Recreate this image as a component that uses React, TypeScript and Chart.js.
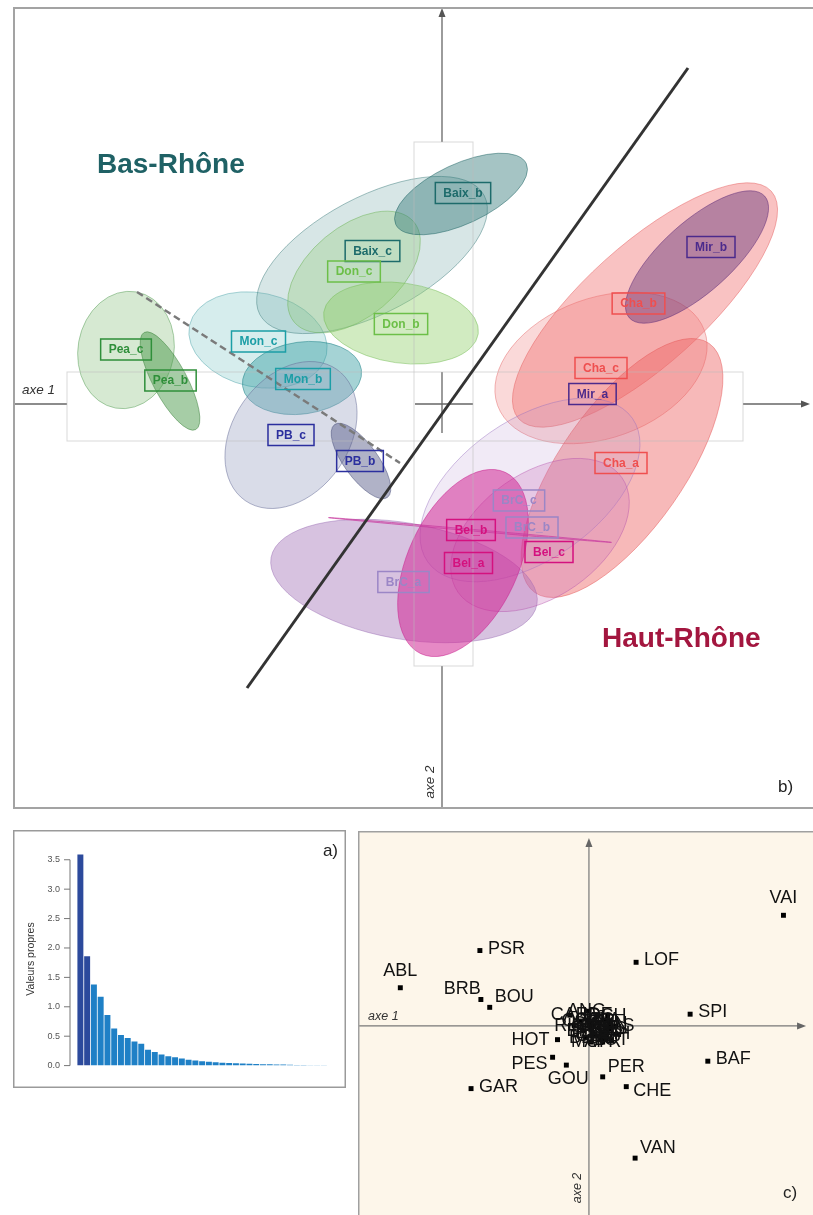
import React, { useEffect, useRef } from "react";
import { Chart, registerables } from "chart.js";

Chart.register(...registerables);

const SANS = "'Liberation Sans', Arial, Helvetica, sans-serif";
Chart.defaults.font.family = SANS;

/* ================= panel b : ACP, ellipses des groupes ================= */
const ellipseGroups = ["Pea_c", "Pea_b", "Mon_c", "Mon_b", "PB_c", "PB_b", "Baix_c", "Don_c", "Don_b", "Baix_b", "Cha_c", "Cha_b", "Mir_b", "Cha_a", "BrC_c", "BrC_a", "BrC_b", "Bel_a", "Bel_b"];
const ellipseCx = [-3.16, -2.72, -1.84, -1.40, -1.51, -0.81, -0.70, -0.88, -0.41, 0.19, 1.59, 2.03, 2.55, 1.80, 0.88, -0.38, 0.98, 0.21, 0.28];
const ellipseCy = [0.54, 0.23, 0.64, 0.26, -0.31, -0.57, 1.49, 1.32, 0.81, 2.10, 0.36, 0.99, 1.47, -0.64, -0.86, -1.77, -1.31, -1.59, -1.26];
const ellipseA = [0.59, 0.55, 0.70, 0.60, 0.80, 0.45, 1.27, 0.78, 0.78, 0.72, 1.10, 1.70, 0.91, 1.52, 1.25, 1.35, 1.00, 1.00, 1.42];
const ellipseB = [0.48, 0.17, 0.47, 0.36, 0.58, 0.17, 0.58, 0.45, 0.40, 0.30, 0.70, 0.60, 0.35, 0.62, 0.70, 0.58, 0.62, 0.55, 0.008];
const ellipseAngle = [80, -62, -12, 8, 55, -54, 28, 40, -8, 25, 20, 42, 42, 55, 35, -10, 35, 65, -5];

const labelGroups = ["Baix_b", "Baix_c", "Don_c", "Don_b", "Mon_c", "Mon_b", "Pea_c", "Pea_b", "PB_c", "PB_b", "Mir_b", "Cha_b", "Cha_c", "Mir_a", "Cha_a", "BrC_c", "BrC_b", "Bel_b", "Bel_a", "Bel_c", "BrC_a"];
const labelX = [0.21, -0.695, -0.88, -0.41, -1.835, -1.39, -3.16, -2.715, -1.51, -0.82, 2.69, 1.965, 1.59, 1.505, 1.79, 0.77, 0.90, 0.29, 0.265, 1.07, -0.385];
const labelY = [2.11, 1.53, 1.325, 0.80, 0.625, 0.25, 0.545, 0.235, -0.31, -0.57, 1.57, 1.005, 0.36, 0.10, -0.59, -0.965, -1.235, -1.26, -1.59, -1.48, -1.78];

const separatorX = [-1.95, 2.46];
const separatorY = [-2.84, 3.36];
const dashedX = [-3.05, -0.42];
const dashedY = [1.12, -0.59];

const regionNames = ["Bas-Rhône", "Haut-Rhône"];
const regionX = [-3.45, 1.60];
const regionY = [2.31, -2.43];

const ellipseFill: Record<string, string> = {
  Pea_c: "rgba(140,195,130,0.36)", Pea_b: "rgba(70,150,70,0.48)",
  Mon_c: "rgba(140,205,205,0.36)", Mon_b: "rgba(40,150,155,0.42)",
  PB_c: "rgba(150,158,190,0.36)", PB_b: "rgba(80,85,130,0.45)",
  Baix_c: "rgba(110,165,165,0.28)", Don_c: "rgba(140,200,110,0.30)",
  Don_b: "rgba(140,205,100,0.40)", Baix_b: "rgba(40,115,115,0.42)",
  Cha_c: "rgba(240,130,130,0.30)", Cha_b: "rgba(240,110,110,0.42)",
  Mir_b: "rgba(100,50,120,0.45)", Cha_a: "rgba(238,100,100,0.45)",
  BrC_c: "rgba(175,140,205,0.18)", BrC_a: "rgba(160,110,180,0.42)",
  BrC_b: "rgba(200,110,185,0.28)", Bel_a: "rgba(210,40,150,0.55)",
  Bel_b: "rgba(210,60,160,0.30)",
};
const ellipseStroke: Record<string, string> = {
  Pea_c: "rgba(90,160,90,0.5)", Pea_b: "rgba(60,130,60,0.5)",
  Mon_c: "rgba(90,170,175,0.5)", Mon_b: "rgba(30,130,135,0.5)",
  PB_c: "rgba(100,105,150,0.5)", PB_b: "rgba(70,75,120,0.5)",
  Baix_c: "rgba(70,130,130,0.5)", Don_c: "rgba(110,180,90,0.5)",
  Don_b: "rgba(120,190,90,0.5)", Baix_b: "rgba(30,100,100,0.5)",
  Cha_c: "rgba(230,110,110,0.5)", Cha_b: "rgba(230,100,100,0.5)",
  Mir_b: "rgba(90,40,120,0.5)", Cha_a: "rgba(230,90,90,0.5)",
  BrC_c: "rgba(150,110,190,0.45)", BrC_a: "rgba(140,90,170,0.4)",
  BrC_b: "rgba(180,80,170,0.45)", Bel_a: "rgba(200,30,140,0.5)",
  Bel_b: "rgba(200,60,160,0.7)",
};
const labelColour: Record<string, string> = {
  Pea: "#2f8f3a", Mon: "#1c9ea6", PB: "#2b2f9e", Baix: "#1d6b6b", Don: "#6cbf48",
  Mir: "#4b2a8c", Cha: "#ef4f4f", BrC: "#9b86c6", Bel: "#d4117f",
};
const regionColour = ["#1f6165", "#a3163f"];

/* ================= panel a : valeurs propres ================= */
const eigenRanks = ["1", "2", "3", "4", "5", "6", "7", "8", "9", "10", "11", "12", "13", "14", "15", "16", "17", "18", "19", "20", "21", "22", "23", "24", "25", "26", "27", "28", "29", "30", "31", "32", "33", "34", "35", "36", "37", "38"];
const eigenValues = [3.59, 1.86, 1.38, 1.17, 0.86, 0.63, 0.52, 0.47, 0.41, 0.37, 0.27, 0.23, 0.19, 0.16, 0.14, 0.12, 0.10, 0.085, 0.075, 0.065, 0.058, 0.05, 0.045, 0.04, 0.035, 0.032, 0.028, 0.025, 0.022, 0.02, 0.017, 0.015, 0.012, 0.01, 0.008, 0.006, 0.004, 0.002];
const eigenTicks = [0, 0.5, 1, 1.5, 2, 2.5, 3, 3.5];

/* ================= panel c : espèces ================= */
const speciesNames = ["VAI", "LOF", "SPI", "BAF", "PER", "CHE", "VAN", "PSR", "ABL", "BRB", "BOU", "HOT", "PES", "GOU", "GAR",
  "ANG", "CAR", "RHO", "CCO", "ROT", "TAN", "BRO", "SAN", "SIL", "EPI", "GRE", "LOT", "BLN", "IDE", "PCH", "OBR", "TRF", "CMI", "BBG", "APR", "MUP", "CAS", "ALA", "BLE", "LPP", "EPT"];
const speciesX = [3.96, 0.96, 2.06, 2.42, 0.28, 0.76, 0.94, -2.22, -3.84, -2.20, -2.02, -0.64, -0.74, -0.46, -2.40,
  -0.05, -0.39, -0.30, 0.12, 0.21, 0.33, 0.04, 0.41, 0.26, 0.55, 0.12, 0.46, -0.05, 0.18, 0.38, -0.16, 0.21, 0.01, 0.41, 0.28, 0.04, 0.55, 0.30, 0.08, 0.34, -0.10];
const speciesY = [2.26, 1.30, 0.24, -0.72, -1.04, -1.24, -2.70, 1.54, 0.78, 0.54, 0.38, -0.28, -0.64, -0.80, -1.28,
  0.30, 0.22, 0.00, 0.13, -0.04, -0.12, -0.07, 0.03, -0.24, -0.17, -0.21, -0.28, -0.24, 0.23, 0.20, 0.10, 0.07, 0.03, -0.07, -0.33, -0.33, 0.00, 0.12, -0.14, -0.20, -0.10];
const speciesLabelSide = ["t", "r", "r", "r", "rt", "rb", "rt", "r", "t", "lt", "rt", "l", "lb", "b", "r",
  "c", "c", "c", "c", "c", "c", "c", "c", "c", "c", "c", "c", "c", "c", "c", "c", "c", "c", "c", "c", "c", "c", "c", "c", "c", "c"];

const sideOffset: Record<string, [number, number, CanvasTextAlign]> = {
  r: [8, -2, "left"], rt: [5, -10, "left"], rb: [7, 4, "left"], l: [-8, 0, "right"],
  lt: [0, -10, "right"], lb: [-5, 7, "right"], t: [0, -17, "center"], b: [2, 14, "center"], c: [0, 0, "center"],
};

/* ---------------- helpers ---------------- */
function arrowHead(ctx: CanvasRenderingContext2D, x: number, y: number, dir: "right" | "up") {
  ctx.beginPath();
  if (dir === "right") {
    ctx.moveTo(x, y); ctx.lineTo(x - 9, y - 3.5); ctx.lineTo(x - 9, y + 3.5);
  } else {
    ctx.moveTo(x, y); ctx.lineTo(x - 3.5, y + 9); ctx.lineTo(x + 3.5, y + 9);
  }
  ctx.closePath();
  ctx.fill();
}

function seg(ctx: CanvasRenderingContext2D, x1: number, y1: number, x2: number, y2: number) {
  ctx.beginPath(); ctx.moveTo(x1, y1); ctx.lineTo(x2, y2); ctx.stroke();
}

/* ---------------- panel b plugin ---------------- */
const pcaPlugin = {
  id: "pcaDecor",
  beforeDatasetsDraw(chart: any) {
    const { ctx, scales: { x, y } } = chart;
    const px = (v: number) => x.getPixelForValue(v);
    const py = (v: number) => y.getPixelForValue(v);
    ctx.save();
    ctx.strokeStyle = "#666"; ctx.fillStyle = "#555"; ctx.lineWidth = 1.3;
    seg(ctx, px(x.min), py(0), px(-3.75), py(0));
    seg(ctx, px(-0.27), py(0), px(0.31), py(0));
    seg(ctx, px(3.01), py(0), px(3.62), py(0));
    arrowHead(ctx, px(3.68), py(0), "right");
    seg(ctx, px(0), py(3.9), px(0), py(2.62));
    seg(ctx, px(0), py(0.32), px(0), py(-0.29));
    seg(ctx, px(0), py(-2.62), px(0), py(y.min));
    arrowHead(ctx, px(0), py(3.96), "up");
    const kx = Math.abs(px(1) - px(0));
    const ky = Math.abs(py(1) - py(0));
    ellipseGroups.forEach((g, i) => {
      ctx.save();
      ctx.translate(px(ellipseCx[i]), py(ellipseCy[i]));
      ctx.scale(kx, -ky);
      ctx.rotate((ellipseAngle[i] * Math.PI) / 180);
      ctx.beginPath();
      ctx.ellipse(0, 0, ellipseA[i], ellipseB[i], 0, 0, Math.PI * 2);
      ctx.restore();
      ctx.fillStyle = ellipseFill[g];
      ctx.fill();
      ctx.strokeStyle = ellipseStroke[g];
      ctx.lineWidth = 1;
      ctx.stroke();
    });
    ctx.strokeStyle = "rgba(185,185,185,0.55)";
    ctx.lineWidth = 1;
    ctx.strokeRect(px(-3.75), py(0.32), px(3.01) - px(-3.75), py(-0.37) - py(0.32));
    ctx.strokeRect(px(-0.28), py(2.62), px(0.31) - px(-0.28), py(-2.62) - py(2.62));
    ctx.restore();
  },
  afterDatasetsDraw(chart: any) {
    const { ctx, scales: { x, y }, width, height } = chart;
    const px = (v: number) => x.getPixelForValue(v);
    const py = (v: number) => y.getPixelForValue(v);
    ctx.save();
    ctx.font = `bold 12px ${SANS}`;
    ctx.textAlign = "center";
    ctx.textBaseline = "middle";
    labelGroups.forEach((g, i) => {
      const col = labelColour[g.split("_")[0]];
      const cx = px(labelX[i]);
      const cy = py(labelY[i]);
      const w = ctx.measureText(g).width + 16;
      const h = 21;
      ctx.strokeStyle = col;
      ctx.lineWidth = 1.5;
      ctx.strokeRect(cx - w / 2, cy - h / 2, w, h);
      ctx.fillStyle = col;
      ctx.fillText(g, cx, cy + 0.5);
    });
    ctx.font = `bold 28px ${SANS}`;
    ctx.textAlign = "left";
    ctx.textBaseline = "alphabetic";
    regionNames.forEach((r, i) => {
      ctx.fillStyle = regionColour[i];
      ctx.fillText(r, px(regionX[i]), py(regionY[i]));
    });
    ctx.fillStyle = "#333";
    ctx.font = `italic 13.5px ${SANS}`;
    ctx.fillText("axe 1", 9, py(0) - 10);
    ctx.save();
    ctx.translate(px(0) - 8, height - 27);
    ctx.rotate(-Math.PI / 2);
    ctx.textAlign = "center";
    ctx.fillText("axe 2", 0, 0);
    ctx.restore();
    ctx.font = `17px ${SANS}`;
    ctx.fillStyle = "#222";
    ctx.fillText("b)", width - 35, height - 17);
    ctx.strokeStyle = "#a3a3a3";
    ctx.lineWidth = 2;
    ctx.strokeRect(1, 1, width + 10, height - 2);
    ctx.restore();
  },
};

/* ---------------- panel a plugin ---------------- */
const eigenPlugin = {
  id: "eigenDecor",
  afterDraw(chart: any) {
    const { ctx, scales: { y }, chartArea, width, height } = chart;
    ctx.save();
    const ax = chartArea.left - 7;
    ctx.strokeStyle = "#777";
    ctx.lineWidth = 1;
    seg(ctx, ax, y.getPixelForValue(0), ax, y.getPixelForValue(3.5));
    eigenTicks.forEach((t) => {
      const yy = y.getPixelForValue(t);
      seg(ctx, ax - 6, yy, ax, yy);
    });
    ctx.font = `17px ${SANS}`;
    ctx.fillStyle = "#222";
    ctx.textAlign = "right";
    ctx.fillText("a)", width - 8, 26);
    ctx.strokeStyle = "#9a9a9a";
    ctx.lineWidth = 1.5;
    ctx.strokeRect(0.75, 0.75, width - 1.5, height - 1.5);
    ctx.restore();
  },
};

/* ---------------- panel c plugin ---------------- */
const speciesPlugin = {
  id: "speciesDecor",
  beforeDatasetsDraw(chart: any) {
    const { ctx, scales: { x, y }, width, height } = chart;
    const px = (v: number) => x.getPixelForValue(v);
    const py = (v: number) => y.getPixelForValue(v);
    ctx.save();
    ctx.fillStyle = "#fdf6ea";
    ctx.fillRect(0, 0, width, height);
    ctx.strokeStyle = "#777";
    ctx.fillStyle = "#666";
    ctx.lineWidth = 1.2;
    seg(ctx, 0, py(0), px(4.36), py(0));
    arrowHead(ctx, px(4.42), py(0), "right");
    seg(ctx, px(0), height, px(0), py(3.76));
    arrowHead(ctx, px(0), py(3.84), "up");
    ctx.strokeStyle = "#a0a0a0";
    ctx.lineWidth = 1.5;
    ctx.strokeRect(0.75, 0.75, width + 10, height + 10);
    ctx.restore();
  },
  afterDatasetsDraw(chart: any) {
    const { ctx, scales: { x, y }, width, height } = chart;
    const meta = chart.getDatasetMeta(0);
    ctx.save();
    ctx.font = `18px ${SANS}`;
    ctx.fillStyle = "#111";
    ctx.textBaseline = "middle";
    meta.data.forEach((pt: any, i: number) => {
      const [dx, dy, al] = sideOffset[speciesLabelSide[i]];
      ctx.textAlign = al;
      ctx.fillText(speciesNames[i], pt.x + dx, pt.y + dy);
    });
    ctx.fillStyle = "#333";
    ctx.font = `italic 12.5px ${SANS}`;
    ctx.textAlign = "left";
    ctx.textBaseline = "alphabetic";
    ctx.fillText("axe 1", 10, y.getPixelForValue(0) - 6);
    ctx.save();
    ctx.translate(x.getPixelForValue(0) - 8, height - 27);
    ctx.rotate(-Math.PI / 2);
    ctx.textAlign = "center";
    ctx.fillText("axe 2", 0, 0);
    ctx.restore();
    ctx.font = `17px ${SANS}`;
    ctx.fillStyle = "#222";
    ctx.fillText("c)", width - 30, height - 17);
    ctx.restore();
  },
};

/* ---------------- configs ---------------- */
const common = {
  animation: false as const,
  responsive: false,
  devicePixelRatio: 1,
  events: [] as any[],
  plugins: { legend: { display: false }, tooltip: { enabled: false } },
};

function configB(): any {
  return {
    type: "scatter",
    data: {
      datasets: [
        {
          data: separatorX.map((v, i) => ({ x: v, y: separatorY[i] })),
          showLine: true, borderColor: "#333", borderWidth: 3, pointRadius: 0,
        },
        {
          data: dashedX.map((v, i) => ({ x: v, y: dashedY[i] })),
          showLine: true, borderColor: "#7a7a7a", borderWidth: 2.5, borderDash: [7, 4], pointRadius: 0,
        },
      ],
    },
    options: {
      ...common,
      layout: { padding: 0 },
      scales: {
        x: { type: "linear", min: -4.29, max: 3.71, display: false },
        y: { type: "linear", min: -4.05, max: 3.97, display: false },
      },
    },
    plugins: [pcaPlugin],
  };
}

function configA(): any {
  return {
    type: "bar",
    data: {
      labels: eigenRanks,
      datasets: [
        {
          data: eigenValues,
          backgroundColor: eigenValues.map((_, i) => (i < 2 ? "#2c4a9c" : "#1f80c6")),
          borderWidth: 0,
          barPercentage: 0.88,
          categoryPercentage: 1,
        },
      ],
    },
    options: {
      ...common,
      layout: { padding: { top: 15, bottom: 11, right: 12, left: 0 } },
      scales: {
        x: { display: false },
        y: {
          min: 0,
          max: 3.625,
          afterBuildTicks: (s: any) => {
            s.ticks = eigenTicks.map((v) => ({ value: v }));
          },
          afterFit: (s: any) => { s.width = 64; },
          grid: { display: false, drawTicks: false },
          border: { display: false },
          ticks: {
            padding: 17, color: "#555", autoSkip: false,
            font: { size: 9, family: SANS },
            callback: (v: any) => Number(v).toFixed(1),
          },
          title: {
            display: true, text: "Valeurs propres", color: "#333",
            font: { size: 10.5, family: SANS }, padding: { top: 12, bottom: 0 },
          },
        },
      },
    },
    plugins: [eigenPlugin],
  };
}

function configC(): any {
  return {
    type: "scatter",
    data: {
      datasets: [
        {
          data: speciesX.map((v, i) => ({ x: v, y: speciesY[i] })),
          pointStyle: "rect", pointRadius: 3.5, backgroundColor: "#000", borderWidth: 0,
        },
      ],
    },
    options: {
      ...common,
      layout: { padding: 0 },
      scales: {
        x: { type: "linear", min: -4.62, max: 4.48, display: false },
        y: { type: "linear", min: -3.78, max: 3.90, display: false },
      },
    },
    plugins: [speciesPlugin],
  };
}

export default function App() {
  const bRef = useRef<HTMLCanvasElement>(null);
  const aRef = useRef<HTMLCanvasElement>(null);
  const cRef = useRef<HTMLCanvasElement>(null);

  useEffect(() => {
    const charts = [
      new Chart(bRef.current as HTMLCanvasElement, configB()),
      new Chart(aRef.current as HTMLCanvasElement, configA()),
      new Chart(cRef.current as HTMLCanvasElement, configC()),
    ];
    return () => charts.forEach((c) => c.destroy());
  }, []);

  return (
    <div style={{ position: "absolute", left: 0, top: 0, width: 813, height: 1215, background: "#fff", overflow: "hidden" }}>
      <canvas ref={bRef} width={800} height={802} style={{ position: "absolute", left: 13, top: 7, width: 800, height: 802 }} />
      <canvas ref={aRef} width={333} height={258} style={{ position: "absolute", left: 13, top: 830, width: 333, height: 258 }} />
      <canvas ref={cRef} width={455} height={384} style={{ position: "absolute", left: 358, top: 831, width: 455, height: 384 }} />
    </div>
  );
}
